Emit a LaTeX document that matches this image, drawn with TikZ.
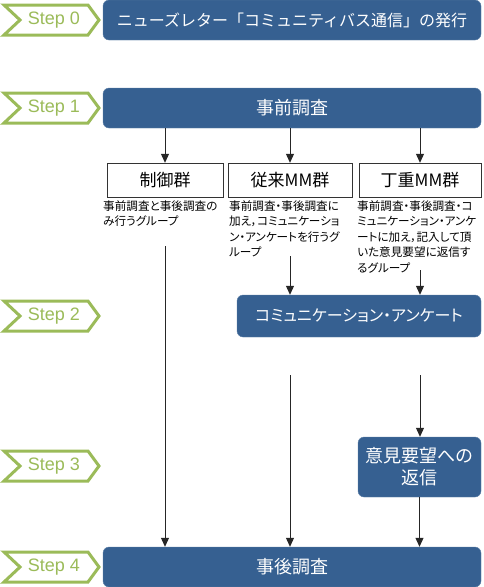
\documentclass[tikz,border=0pt]{standalone}
\usepackage{fontspec}
\setmainfont{Liberation Sans}
\newfontfamily\jp{Noto Sans CJK JP}
\newfontfamily\jpp[RawFeature=+palt]{Noto Sans CJK JP}
\usetikzlibrary{arrows.meta, positioning}
\definecolor{stepgreen}{RGB}{155,187,89}
\definecolor{boxblue}{RGB}{54,96,145}
\tikzset{
  bluebox/.style={fill=boxblue, draw=boxblue!80!white, rounded corners=6pt, text=white, align=center, inner sep=0pt, font=\jp\fontsize{18}{24}\selectfont},
  group/.style={draw=black!80, fill=white, minimum height=34pt, inner sep=0pt, font=\jp\fontsize{17}{20}\selectfont},
  desc/.style={anchor=north west, align=left, inner sep=0pt, font=\jpp\fontsize{11.6}{14}\selectfont},
  arr/.style={-{Triangle[width=8pt,length=9pt]}, line width=1pt, black!85}
}
\begin{document}
\begin{tikzpicture}[x=1pt, y=-1pt]
\useasboundingbox (0,0) rectangle (483,587);
% step flags
\foreach \y/\n in {20/0, 108/1, 316/2, 466/3, 567/4}{
  \draw[stepgreen, line width=3pt, fill=white] (4,\y-15) -- (88,\y-15) -- (99,\y) -- (88,\y+15) -- (4,\y+15) -- (20,\y) -- cycle;
  \node[text=stepgreen, font=\fontsize{18}{20}\selectfont] (s\n) at (54,\y) {Step \n};
}
% main boxes
\node[bluebox, minimum width=378pt, minimum height=40pt, font=\jp\fontsize{16}{20}\selectfont] (news) at (292,20) {ニューズレター「コミュニティバス通信」の発行};
\node[bluebox, minimum width=378pt, minimum height=40pt] (pre) at (292,108) {事前調査};
\node[bluebox, minimum width=244pt, minimum height=42pt, font=\jpp\fontsize{16}{20}\selectfont] (comm) at (359,316) {コミュニケーション・アンケート};
\node[bluebox, minimum width=123pt, minimum height=60pt] (reply) at (419.5,467) {意見要望への\\[-2pt]返信};
\node[bluebox, minimum width=378pt, minimum height=40pt] (post) at (292,567) {事後調査};
% groups
\node[group, minimum width=116pt] (g1) at (165,180) {制御群};
\node[group, minimum width=124pt] (g2) at (290,180) {従来MM群};
\node[group, minimum width=122pt] (g3) at (420,180) {丁重MM群};
\node[desc] (d1) at (103,200) {事前調査と事後調査の\\[1.5pt]み行うグループ};
\node[desc] (d2) at (229,200) {事前調査・事後調査に\\[1.5pt]加え，コミュニケーショ\\[1.5pt]ン・アンケートを行うグ\\[1.5pt]ループ};
\node[desc] (d3) at (357,200) {事前調査・事後調査・コ\\[1.5pt]ミュニケーション・アンケ\\[1.5pt]ートに加え，記入して頂\\[1.5pt]いた意見要望に返信す\\[1.5pt]るグループ};
% arrows
\coordinate (a1) at (165,246);
\coordinate (a2) at (290,256);
\coordinate (a3) at (420,270);
\coordinate (b2) at (290,375);
\coordinate (b3) at (420,375);
\draw[arr] (pre.south -| g1.north) -- (g1.north);
\draw[arr] (pre.south -| g2.north) -- (g2.north);
\draw[arr] (pre.south -| g3.north) -- (g3.north);
\draw[arr] (a1) -- (a1 |- post.north);
\draw[arr] (a2) -- (a2 |- comm.north);
\draw[arr] (a3) -- (a3 |- comm.north);
\draw[arr] (b2) -- (b2 |- post.north);
\draw[arr] (b3) -- (b3 |- reply.north);
\draw[arr] (reply.south) -- (reply.south |- post.north);
\end{tikzpicture}
\end{document}
